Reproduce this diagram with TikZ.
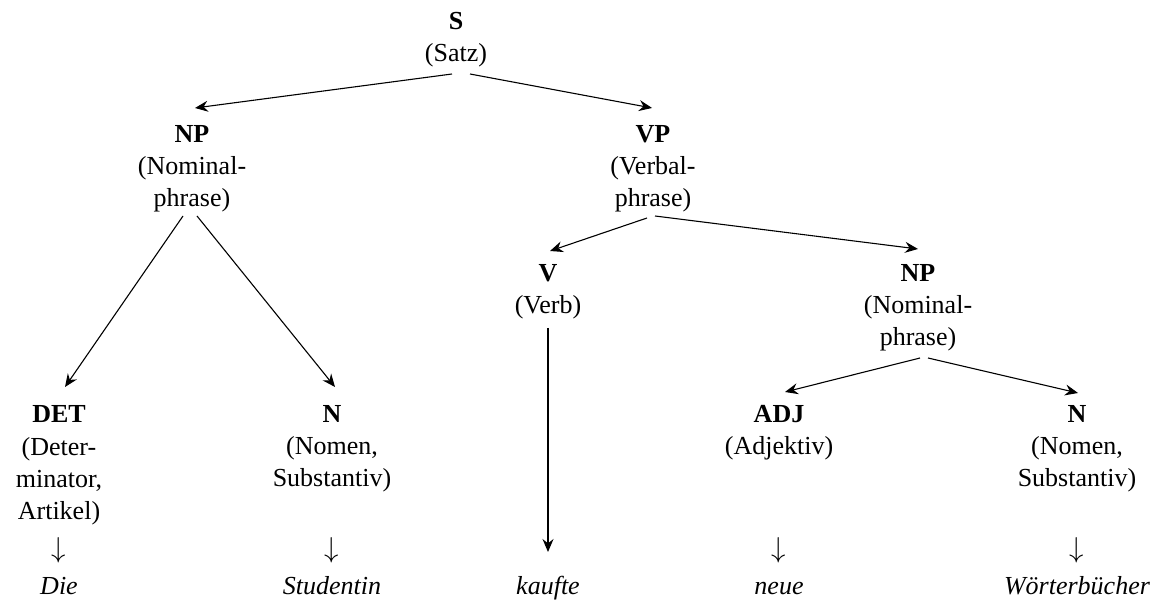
\documentclass[tikz,border=0pt]{standalone}
\usepackage{fontspec}
\setmainfont{Liberation Serif}
\usetikzlibrary{arrows.meta}
\begin{document}
\begin{tikzpicture}[x=0.5pt,y=-0.5pt,
  cat/.style={anchor=base,inner sep=0pt,align=center,font=\fontsize{13}{16}\selectfont},
  word/.style={anchor=base,inner sep=0pt,font=\fontsize{13}{16}\selectfont\itshape},
  down/.style={anchor=base,inner sep=0pt,font=\fontsize{15}{16}\selectfont},
  edge/.style={line width=0.55pt,-{Stealth[length=6.5pt,width=5.5pt,inset=2.2pt]}}]
\useasboundingbox (0,0) rectangle (1161,603);

% categories (positioned by the baseline of their last line)
\node[cat] (S)   at (456,62)  {\textbf{S}\\(Satz)};
\node[cat] (NP1) at (192,207) {\textbf{NP}\\(Nominal-\\phrase)};
\node[cat] (VP)  at (653,207) {\textbf{VP}\\(Verbal-\\phrase)};
\node[cat] (V)   at (548,314) {\textbf{V}\\(Verb)};
\node[cat] (NP2) at (918,346) {\textbf{NP}\\(Nominal-\\phrase)};
\node[cat] (DET) at (59,519)  {\textbf{DET}\\(Deter-\\minator,\\Artikel)};
\node[cat] (N1)  at (332,487) {\textbf{N}\\(Nomen,\\Substantiv)};
\node[cat] (ADJ) at (779,455) {\textbf{ADJ}\\(Adjektiv)};
\node[cat] (N2)  at (1077,487) {\textbf{N}\\(Nomen,\\Substantiv)};

% lexical items
\node[down] (d1) at (59,557)   {$\downarrow$};
\node[down] (d2) at (332,557)  {$\downarrow$};
\node[down] (d4) at (779,557)  {$\downarrow$};
\node[down] (d5) at (1077,557) {$\downarrow$};
\node[word] (w1) at (59,594)   {Die};
\node[word] (w2) at (332,594)  {Studentin};
\node[word] (w3) at (548,594)  {kaufte};
\node[word] (w4) at (779,594)  {neue};
\node[word] (w5) at (1077,594) {Wörterbücher};

% branches
\draw[edge] ([shift={(-4,12)}]S.base)   -- ([shift={(3,-99)}]NP1.base);
\draw[edge] ([shift={(14,12)}]S.base)   -- ([shift={(-1,-99)}]VP.base);
\draw[edge] ([shift={(-9,9)}]NP1.base)  -- ([shift={(6,-132)}]DET.base);
\draw[edge] ([shift={(5,9)}]NP1.base)   -- ([shift={(3,-100)}]N1.base);
\draw[edge] ([shift={(-6,11)}]VP.base)  -- ([shift={(2,-63)}]V.base);
\draw[edge] ([shift={(2,9)}]VP.base)    -- ([shift={(0,-97)}]NP2.base);
\draw[edge] ([shift={(0,14)}]V.base)    -- ([shift={(0,-42)}]w3.base);
\draw[edge] ([shift={(2,12)}]NP2.base)  -- ([shift={(6,-63)}]ADJ.base);
\draw[edge] ([shift={(10,12)}]NP2.base) -- ([shift={(1,-94)}]N2.base);
\end{tikzpicture}
\end{document}
